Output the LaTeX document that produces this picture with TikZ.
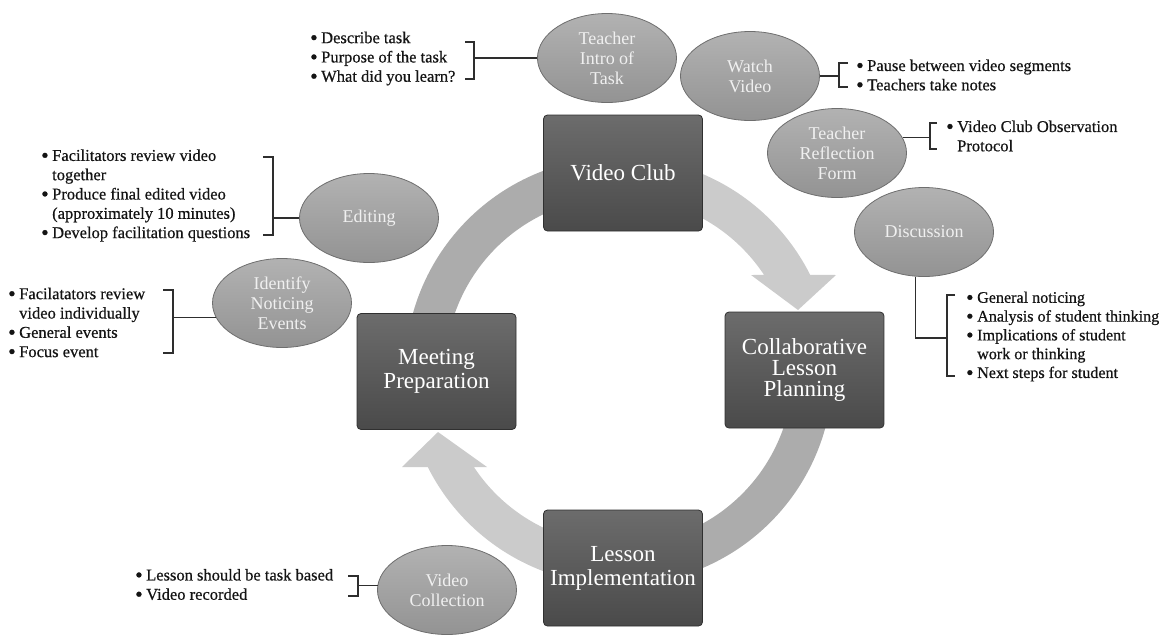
\documentclass[tikz,border=0pt]{standalone}
\usepackage{fontspec}
\setmainfont{Liberation Serif}
\newfontfamily\bulletfont{Liberation Serif}[FakeBold=0.6]
\usetikzlibrary{shapes.geometric,calc}
\definecolor{arrowlight}{HTML}{CBCBCB}
\definecolor{arcdark}{HTML}{ACACAC}
\definecolor{boxtop}{HTML}{6C6C6C}
\definecolor{boxbot}{HTML}{4A4A4A}
\definecolor{boxline}{HTML}{303030}
\definecolor{elltop}{HTML}{B2B2B2}
\definecolor{ellbot}{HTML}{939393}
\definecolor{ellline}{HTML}{6E6E6E}
\definecolor{elltext}{HTML}{F0F0F0}
\definecolor{conncol}{HTML}{2E2E2E}
\newcommand\bul[1]{\makebox[11pt][l]{\raisebox{-1.6pt}[0pt][0pt]{\scalebox{1.3}{\textbullet}}}#1}
\newcommand\cnt[1]{\hspace*{11pt}#1}
\begin{document}
\begin{tikzpicture}[x=1pt,y=-1pt,
  stagebox/.style={rectangle, rounded corners=4pt, minimum width=159pt, minimum height=116pt,
    inner sep=2pt, top color=boxtop, bottom color=boxbot, draw=boxline, line width=0.8pt,
    text=white, align=center, font=\fontsize{23}{24}\selectfont},
  subell/.style={ellipse, minimum width=139pt, minimum height=89pt, inner sep=0pt,
    top color=elltop, bottom color=ellbot, draw=ellline, line width=0.8pt,
    text=elltext, align=center, font=\fontsize{18}{20}\selectfont},
  blist/.style={anchor=west, inner sep=0pt, align=left, text=black!92,
    font=\bulletfont\fontsize{16.5}{19.3}\selectfont},
  conn/.style={draw=conncol, line width=1.1pt}
]
\useasboundingbox (0,0) rectangle (1172,635);
\coordinate (O) at (619,371);

% ring arcs
\fill[arcdark] ($(O)+(-100:214)$) arc[start angle=-100,end angle=-170,radius=214]
  -- ($(O)+(-170:174)$) arc[start angle=-170,end angle=-100,radius=174] -- cycle;
\fill[arcdark] ($(O)+(80:214)$) arc[start angle=80,end angle=10,radius=214]
  -- ($(O)+(10:174)$) arc[start angle=10,end angle=80,radius=174] -- cycle;
\fill[arrowlight] ($(O)+(-75:214)$) arc[start angle=-75,end angle=-26.7,radius=214]
  -- (836,275) -- (798,310) -- (751,275) -- ($(O)+(-33.5:174)$)
  arc[start angle=-33.5,end angle=-75,radius=174] -- cycle;
\fill[arrowlight] ($(O)+(105:214)$) arc[start angle=105,end angle=153.3,radius=214]
  -- (402,467) -- (438,432) -- (487,467) -- ($(O)+(146.5:174)$)
  arc[start angle=146.5,end angle=105,radius=174] -- cycle;

% main stages
\node[stagebox] (vclub) at (623,173) {Video Club};
\node[stagebox] (mprep) at (436.5,371.5) {Meeting\\Preparation};
\node[stagebox, font=\fontsize{23}{21}\selectfont] (clp) at (804.5,370) {Collaborative\\Lesson\\Planning};
\node[stagebox] (limp) at (623,568) {Lesson\\Implementation};

% sub ellipses
\node[subell] (ti) at (607,58) {Teacher\\Intro of\\Task};
\node[subell] (wv) at (750,76) {Watch\\Video};
\node[subell] (tr) at (837,153) {Teacher\\Reflection\\Form};
\node[subell] (disc) at (924,232) {Discussion};
\node[subell] (ed) at (369,218) {Editing};
\node[subell] (idn) at (282,303) {Identify\\Noticing\\Events};
\node[subell] (vcol) at (447,590) {Video\\Collection};

% bullet lists
\node[blist] (l1) at (310,58.5) {\bul{Describe task}\\\bul{Purpose of the task}\\\bul{What did you learn?}};
\node[blist] (l2) at (856,75) {\bul{Pause between video segments}\\\bul{Teachers take notes}};
\node[blist] (l3) at (946,136) {\bul{Video Club Observation}\\\cnt{Protocol}};
\node[blist, font=\bulletfont\fontsize{16.1}{18.8}\selectfont] (l4) at (966,336.5) {\bul{General noticing}\\\bul{Analysis of student thinking}\\\bul{Implications of student}\\\cnt{work or thinking}\\\bul{Next steps for student}};
\node[blist] (l5) at (41,195.5) {\bul{Facilitators review video}\\\cnt{together}\\\bul{Produce final edited video}\\\cnt{(approximately 10 minutes)}\\\bul{Develop facilitation questions}};
\node[blist] (l6) at (8,322.5) {\bul{Facilatators review}\\\cnt{video individually}\\\bul{General events}\\\bul{Focus event}};
\node[blist] (l7) at (135,584.5) {\bul{Lesson should be task based}\\\bul{Video recorded}};

% brackets and connectors
\coordinate (b1) at (474,58);
\draw[conn] (465,42) -- (474,42) -- (474,79) -- (465,79);
\draw[conn] (ti.west) -- (b1);

\coordinate (b2) at (839,76);
\draw[conn] (848,63) -- (839,63) -- (839,87) -- (848,87);
\draw[conn] (wv.east) -- (wv.east -| b2);

\coordinate (b3) at (930,138);
\draw[conn] (937,123) -- (930,123) -- (930,149) -- (937,149);
\draw[conn] (tr.13) -- (tr.13 -| b3);

\coordinate (b4) at (947,338);
\draw[conn] (955,295) -- (947,295) -- (947,376) -- (955,376);
\draw[conn] (disc.259) -- (disc.259 |- b4) -- (b4);

\coordinate (b5) at (273,216);
\draw[conn] (263,157) -- (273,157) -- (273,235) -- (263,235);
\draw[conn] (ed.west) -- (ed.west -| b5);

\coordinate (b6) at (173,317);
\draw[conn] (163,290) -- (173,290) -- (173,353) -- (163,353);
\draw[conn] (idn.192) -- (idn.192 -| b6);

\coordinate (b7) at (358,585);
\draw[conn] (348,576) -- (358,576) -- (358,596) -- (348,596);
\draw[conn] (vcol.176) -- (vcol.176 -| b7);
\end{tikzpicture}
\end{document}
